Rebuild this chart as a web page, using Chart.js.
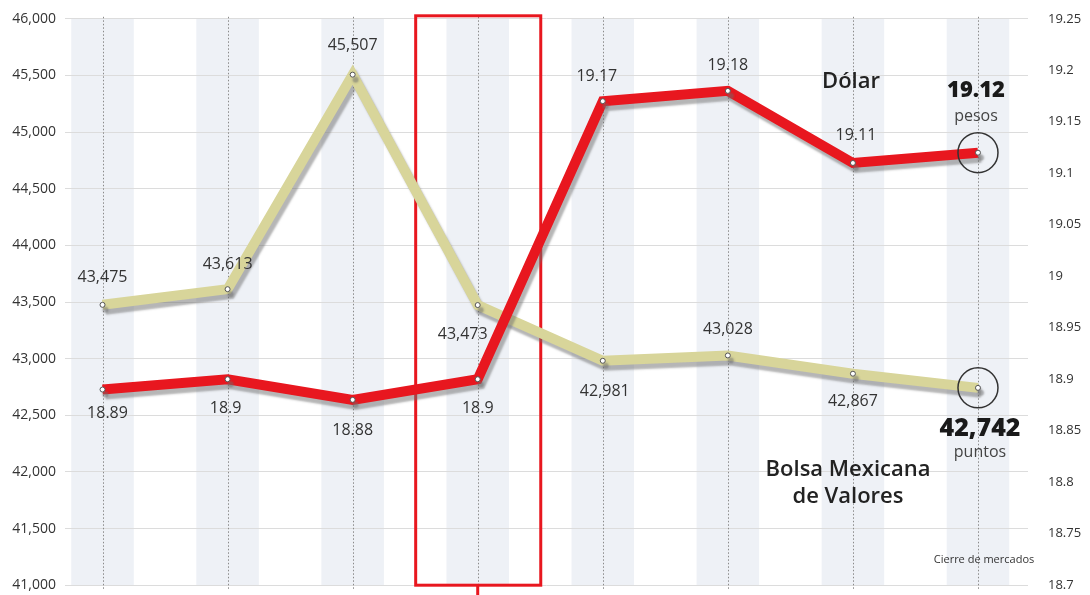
<!DOCTYPE html>
<html>
<head>
<meta charset="utf-8">
<script src="https://cdn.jsdelivr.net/npm/chart.js@4"></script>
<style>
  html, body { margin: 0; padding: 0; background: #fff; overflow: hidden; }
  #wrap { width: 1090px; height: 622px; position: relative; margin-top: -9px; }
</style>
</head>
<body>
<div id="wrap"><canvas id="chart"></canvas></div>
<script>
// data
const days = ['1', '2', '3', '4', '5', '6', '7', '8'];
const bolsa = [43475, 43613, 45507, 43473, 42981, 43028, 42867, 42742];
const dolar = [18.89, 18.9, 18.88, 18.9, 19.17, 19.18, 19.11, 19.12];
const bolsaTicks = [41000, 41500, 42000, 42500, 43000, 43500, 44000, 44500, 45000, 45500, 46000];
const dolarTicks = [18.7, 18.75, 18.8, 18.85, 18.9, 18.95, 19, 19.05, 19.1, 19.15, 19.2, 19.25];
const highlightIndex = 3;

// label placement (offsets from point, px)
const bolsaLabelPos = [[0, -27], [0, -25], [0, -29], [-15, 29], [2, 31], [0, -26], [0, 28], null];
const dolarLabelPos = [[5, 24], [-2, 29], [0, 31], [0, 29], [-6, -25], [0, -25], [3, -28], null];

const FONT = '"Open Sans", "Noto Sans", sans-serif';
const KHAKI = '#d8d59a';
const RED = '#e8171f';
const OFF = 9; // canvas is shifted up by this much

const fmtBolsa = v => v.toLocaleString('en-US');

const bgPlugin = {
  id: 'bands',
  beforeDraw(chart) {
    const { ctx, chartArea: a, scales: { x } } = chart;
    const step = x.getPixelForValue(1) - x.getPixelForValue(0);
    ctx.save();
    ctx.fillStyle = '#eef1f6';
    days.forEach((d, i) => {
      const px = x.getPixelForValue(i);
      ctx.fillRect(px - step / 4, a.top, step / 2, a.bottom - a.top);
    });
    ctx.restore();
  },
  beforeDatasetsDraw(chart) {
    const { ctx, chartArea: a, scales: { x } } = chart;
    const step = x.getPixelForValue(1) - x.getPixelForValue(0);
    ctx.save();
    // dotted verticals
    ctx.strokeStyle = '#8a8a8a';
    ctx.lineWidth = 1;
    ctx.setLineDash([1.5, 2]);
    days.forEach((d, i) => {
      const px = Math.round(x.getPixelForValue(i)) + 0.5;
      ctx.beginPath();
      ctx.moveTo(px, a.top - 2);
      ctx.lineTo(px, a.bottom + 5);
      ctx.stroke();
    });
    ctx.setLineDash([]);
    // highlight box
    const hx = x.getPixelForValue(highlightIndex);
    ctx.strokeStyle = RED;
    ctx.lineWidth = 3;
    ctx.strokeRect(hx - step / 2 + 0.5, a.top - 3, step, a.bottom - a.top + 3);
    ctx.beginPath();
    ctx.moveTo(hx, a.bottom);
    ctx.lineTo(hx, chart.height);
    ctx.stroke();
    ctx.restore();
  },
  beforeDatasetDraw(chart) {
    const ctx = chart.ctx;
    ctx.save();
    ctx.shadowColor = 'rgba(110,110,110,0.5)';
    ctx.shadowOffsetX = 3;
    ctx.shadowOffsetY = 5;
    ctx.shadowBlur = 2;
  },
  afterDatasetDraw(chart) {
    chart.ctx.restore();
  },
  afterDatasetsDraw(chart) {
    const { ctx, scales: { x, y, y1 } } = chart;
    ctx.save();
    ctx.fillStyle = '#333';
    ctx.textAlign = 'center';
    ctx.textBaseline = 'middle';
    ctx.font = '16px ' + FONT;
    bolsa.forEach((v, i) => {
      const p = bolsaLabelPos[i];
      if (!p) return;
      ctx.fillText(fmtBolsa(v), x.getPixelForValue(i) + p[0], y.getPixelForValue(v) + p[1]);
    });
    dolar.forEach((v, i) => {
      const p = dolarLabelPos[i];
      if (!p) return;
      ctx.fillText(String(v), x.getPixelForValue(i) + p[0], y1.getPixelForValue(v) + p[1]);
    });

    // last values
    const li = days.length - 1;
    const lx = x.getPixelForValue(li);
    const by = y.getPixelForValue(bolsa[li]);
    const dy = y1.getPixelForValue(dolar[li]);
    ctx.strokeStyle = '#333';
    ctx.lineWidth = 1.5;
    [by, dy].forEach(cy => {
      ctx.beginPath();
      ctx.arc(lx, cy, 20, 0, Math.PI * 2);
      ctx.stroke();
    });
    ctx.fillStyle = '#1a1a1a';
    ctx.font = '800 22px ' + FONT;
    ctx.fillText(String(dolar[li]), lx - 2, dy - 62);
    ctx.font = '800 25px ' + FONT;
    ctx.fillText(fmtBolsa(bolsa[li]), lx + 2, by + 41);
    ctx.fillStyle = '#444';
    ctx.font = '16px ' + FONT;
    ctx.fillText('pesos', lx - 2, dy - 36);
    ctx.fillText('puntos', lx + 2, by + 65);

    // series titles
    ctx.fillStyle = '#222';
    ctx.font = '600 22px ' + FONT;
    ctx.fillText('Dólar', 851, 82 + OFF);
    ctx.fillText('Bolsa Mexicana', 848, 470 + OFF);
    ctx.fillText('de Valores', 848, 497 + OFF);
    ctx.font = '11px ' + FONT;
    ctx.fillStyle = '#333';
    ctx.fillText('Cierre de mercados', 984, 560 + OFF);
    ctx.restore();
  }
};

new Chart(document.getElementById('chart'), {
  type: 'line',
  data: {
    labels: days,
    datasets: [
      {
        label: 'Dólar',
        data: dolar.map((v, i) => ({ x: i, y: v })),
        yAxisID: 'y1',
        borderColor: RED,
        borderWidth: 10,
        pointRadius: 2.5,
        pointBackgroundColor: '#fff',
        pointBorderColor: '#555',
        pointBorderWidth: 1,
        tension: 0,
        order: 1
      },
      {
        label: 'Bolsa Mexicana de Valores',
        data: bolsa.map((v, i) => ({ x: i, y: v })),
        yAxisID: 'y',
        borderColor: KHAKI,
        borderWidth: 10,
        pointRadius: 2.5,
        pointBackgroundColor: '#fff',
        pointBorderColor: '#555',
        pointBorderWidth: 1,
        tension: 0,
        order: 2
      }
    ]
  },
  options: {
    responsive: true,
    maintainAspectRatio: false,
    animation: false,
    layout: { padding: { top: 9, bottom: -8, left: 0, right: 0 } },
    plugins: { legend: { display: false }, tooltip: { enabled: false } },
    scales: {
      x: {
        type: 'linear',
        display: false,
        min: -0.3,
        max: days.length - 1 + 0.4
      },
      y: {
        position: 'left',
        min: bolsaTicks[0],
        max: bolsaTicks[bolsaTicks.length - 1],
        afterBuildTicks: s => { s.ticks = bolsaTicks.map(v => ({ value: v })); },
        afterFit: s => { s.width = 65; },
        border: { display: false },
        grid: { color: '#dcdcdc', lineWidth: 1, drawTicks: false },
        ticks: {
          padding: 9,
          color: '#333',
          font: { family: FONT, size: 14 },
          callback: v => fmtBolsa(v)
        }
      },
      y1: {
        position: 'right',
        min: dolarTicks[0],
        max: dolarTicks[dolarTicks.length - 1],
        afterBuildTicks: s => { s.ticks = dolarTicks.map(v => ({ value: v })); },
        afterFit: s => { s.width = 62; },
        border: { display: false },
        grid: { display: false, drawTicks: false },
        ticks: {
          padding: 20,
          color: '#333',
          font: { family: FONT, size: 13 },
          callback: v => String(parseFloat(v.toFixed(2)))
        }
      }
    }
  },
  plugins: [bgPlugin]
});
</script>
</body>
</html>
